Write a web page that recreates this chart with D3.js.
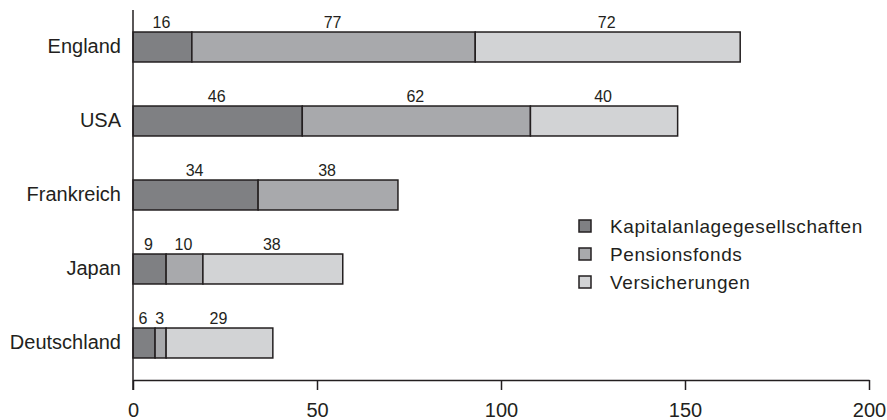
<!DOCTYPE html>
<html>
<head>
<meta charset="utf-8">
<script src="https://cdn.jsdelivr.net/npm/d3@7"></script>
<style>
  html, body { margin: 0; padding: 0; background: #fff; }
  svg { display: block; font-family: "Liberation Sans", Arial, Helvetica, sans-serif; }
</style>
</head>
<body>
<svg id="chart" width="887" height="420"></svg>
<script>
// Länder und Anteile je Anlegergruppe
const categories = ["England", "USA", "Frankreich", "Japan", "Deutschland"];
const kapitalanlage = [16, 46, 34, 9, 6];
const pensionsfonds = [77, 62, 38, 10, 3];
const versicherungen = [72, 40, 0, 38, 29];
const seriesNames = ["Kapitalanlagegesellschaften", "Pensionsfonds", "Versicherungen"];
const xTicks = [0, 50, 100, 150, 200];

const colors = ["#7f8083", "#a8a9ac", "#d2d3d5"];
const ink = "#231f20";

const svg = d3.select("#chart");

const x = d3.scaleLinear().domain([0, 200]).range([133, 869]);
const y = d3.scaleBand().domain(categories).range([10, 380])
  .paddingInner(0.595).paddingOuter(0.2975);

// Stapel aufbauen
const rows = categories.map((c, i) => ({
  country: c,
  [seriesNames[0]]: kapitalanlage[i],
  [seriesNames[1]]: pensionsfonds[i],
  [seriesNames[2]]: versicherungen[i]
}));
const stacked = d3.stack().keys(seriesNames)(rows);

const layers = svg.append("g").selectAll("g")
  .data(stacked)
  .join("g")
  .attr("fill", (d, i) => colors[i]);

layers.selectAll("rect")
  .data(d => d.filter(s => s[1] - s[0] > 0))
  .join("rect")
  .attr("x", d => x(d[0]))
  .attr("y", d => y(d.data.country))
  .attr("width", d => x(d[1]) - x(d[0]))
  .attr("height", y.bandwidth())
  .attr("stroke", ink)
  .attr("stroke-width", 1.5);

// Wertebeschriftungen über den Segmenten
layers.selectAll("text")
  .data(d => d.filter(s => s[1] - s[0] > 0))
  .join("text")
  .attr("x", d => x((d[0] + d[1]) / 2) - 1)
  .attr("y", d => y(d.data.country) - 4)
  .attr("text-anchor", "middle")
  .attr("fill", ink)
  .attr("font-size", 16)
  .text(d => d[1] - d[0]);

// x-Achse
const xAxis = svg.append("g")
  .attr("transform", "translate(0,380)")
  .call(d3.axisBottom(x).tickValues(xTicks).tickSize(10).tickSizeOuter(0).tickPadding(13));
xAxis.select(".domain").attr("stroke", ink).attr("stroke-width", 1.5);
xAxis.selectAll(".tick line").attr("stroke", ink).attr("stroke-width", 1.5);
xAxis.selectAll(".tick text")
  .attr("fill", ink)
  .attr("font-size", 20)
  .attr("font-family", "Liberation Sans, Arial, sans-serif");

// y-Achse
const yAxis = svg.append("g")
  .attr("transform", "translate(133,0)")
  .call(d3.axisLeft(y).tickSize(0).tickPadding(12));
yAxis.select(".domain").remove();
yAxis.selectAll(".tick text")
  .attr("fill", ink)
  .attr("font-size", 20)
  .attr("font-family", "Liberation Sans, Arial, sans-serif");
svg.append("line")
  .attr("x1", 133).attr("x2", 133)
  .attr("y1", 10).attr("y2", 390)
  .attr("stroke", ink).attr("stroke-width", 1.5);

// Legende
const legend = svg.append("g").attr("transform", "translate(579,220)");
const items = legend.selectAll("g")
  .data(seriesNames)
  .join("g")
  .attr("transform", (d, i) => `translate(0,${i * 28})`);
items.append("rect")
  .attr("width", 12).attr("height", 12)
  .attr("fill", (d, i) => colors[i])
  .attr("stroke", ink).attr("stroke-width", 1.5);
items.append("text")
  .attr("x", 31).attr("y", 13)
  .attr("fill", ink)
  .attr("font-size", 19)
  .attr("letter-spacing", 0.6)
  .text(d => d);
</script>
</body>
</html>
